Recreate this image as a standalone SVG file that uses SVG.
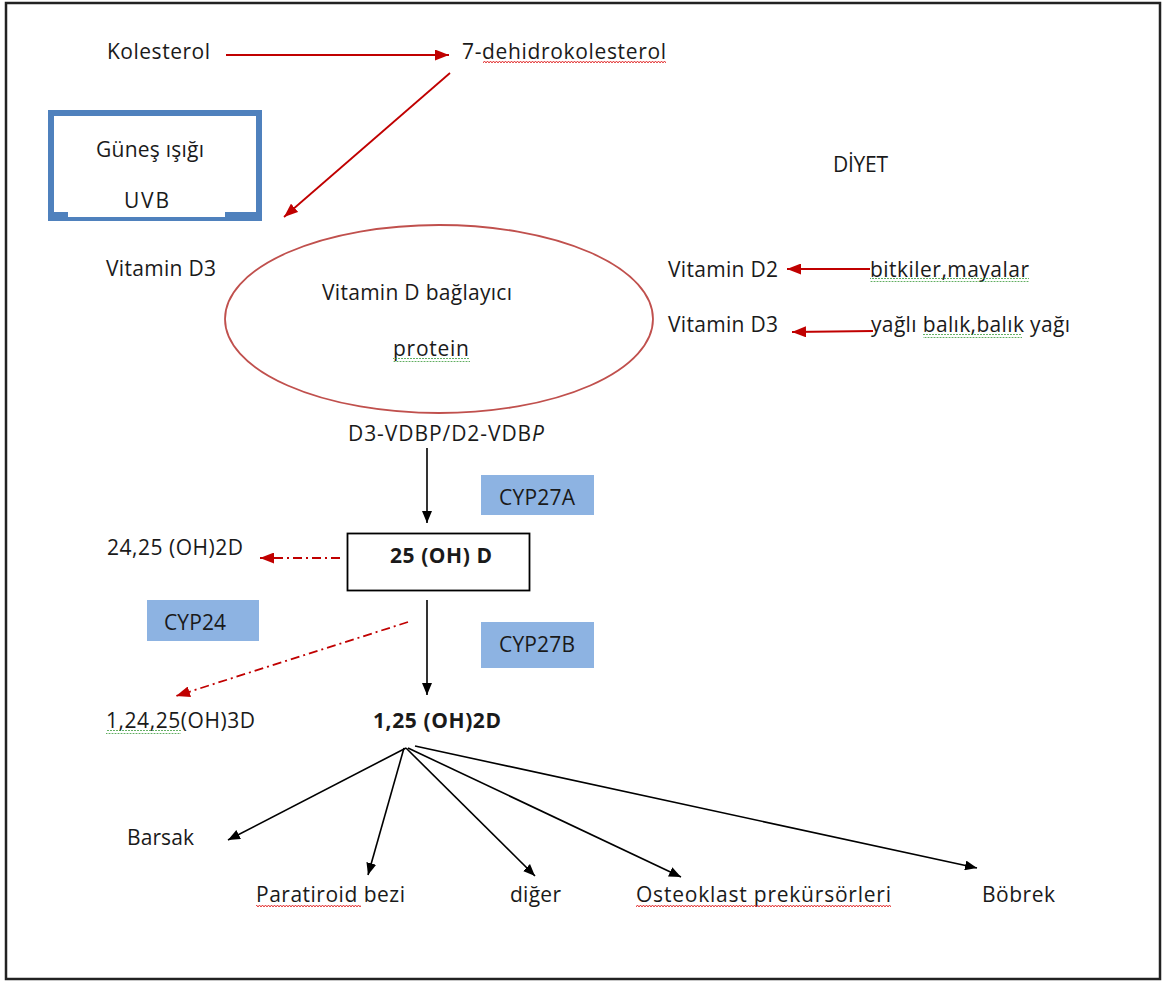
<svg xmlns="http://www.w3.org/2000/svg" width="1163" height="983" viewBox="0 0 1163 983">
<style>
.t{font-family:"Open Sans","Liberation Sans",sans-serif;font-size:21px;fill:#1a1a1a}
.b{font-weight:bold}
.red{stroke:#c00000;stroke-width:1.8;fill:none}
.blk{stroke:#000;stroke-width:1.6;fill:none}
.dd{stroke:#c00000;stroke-width:1.8;fill:none;stroke-dasharray:9 4 2 4}
.cyp{fill:#8db3e2}
</style>
<defs>
<marker id="ar" markerUnits="userSpaceOnUse" markerWidth="14" markerHeight="11" refX="14" refY="5.5" orient="auto"><path d="M0,0 L14,5.5 L0,11 z" fill="#c00000"/></marker>
<marker id="ab" markerUnits="userSpaceOnUse" markerWidth="12" markerHeight="10" refX="12" refY="5" orient="auto"><path d="M0,0 L12,5 L0,10 z" fill="#000"/></marker>
<pattern id="wr" patternUnits="userSpaceOnUse" width="3" height="4"><path d="M0,3 L1.5,1 L3,3" stroke="#e02020" stroke-width="0.9" fill="none"/></pattern>
<pattern id="wg" patternUnits="userSpaceOnUse" width="3" height="4"><path d="M0,3 L1.5,1 L3,3" stroke="#3a9a3a" stroke-width="0.9" fill="none"/></pattern>
</defs>
<rect x="6" y="3" width="1154" height="976" fill="#fff" stroke="#222" stroke-width="2.5"/>

<g id="connectors">
<line class="red" x1="226" y1="55" x2="449" y2="55" marker-end="url(#ar)"/>
<line class="red" x1="450" y1="73" x2="284" y2="217" marker-end="url(#ar)"/>
<line class="red" x1="870" y1="269" x2="787" y2="269" marker-end="url(#ar)"/>
<line class="red" x1="873" y1="331" x2="792" y2="332" stroke-width="2.6" marker-end="url(#ar)"/>
<line class="blk" x1="427" y1="448" x2="427" y2="523" marker-end="url(#ab)"/>
<line class="dd" x1="340" y1="558" x2="260" y2="558" marker-end="url(#ar)"/>
<line class="blk" x1="427" y1="600" x2="427" y2="695" marker-end="url(#ab)"/>
<line class="dd" x1="408" y1="622" x2="176" y2="696" marker-end="url(#ar)"/>
<line class="blk" x1="406" y1="748" x2="228" y2="840" marker-end="url(#ab)"/>
<line class="blk" x1="404" y1="748" x2="368" y2="875" marker-end="url(#ab)"/>
<line class="blk" x1="406" y1="748" x2="535" y2="876" marker-end="url(#ab)"/>
<line class="blk" x1="408" y1="748" x2="681" y2="877" marker-end="url(#ab)"/>
<line class="blk" x1="415" y1="746" x2="977" y2="868" stroke-width="2.2" marker-end="url(#ab)"/>
</g>

<g id="kolesterol"><text class="t" x="107" y="59" textLength="103">Kolesterol</text></g>
<g id="dehidrokolesterol"><text class="t" x="462" y="59" textLength="204">7-dehidrokolesterol</text><rect x="483" y="60" width="183" height="4" fill="url(#wr)"/></g>

<g id="gunes">
<rect x="51" y="113" width="208" height="105" fill="none" stroke="#4f81bd" stroke-width="6"/>
<rect x="54" y="212" width="14" height="3" fill="#4f81bd"/>
<rect x="225" y="212" width="31" height="3" fill="#4f81bd"/>
<rect x="68" y="215" width="157" height="2" fill="#fff"/>
<text class="t" x="96" y="157" textLength="108">Güneş ışığı</text>
<text class="t" x="124" y="208" textLength="45">UVB</text>
</g>

<g id="diyet"><text class="t" x="833" y="172" textLength="55">DİYET</text></g>
<g id="vitd3-left"><text class="t" x="106" y="276" textLength="110">Vitamin D3</text></g>

<g id="vdbp">
<ellipse cx="439" cy="319" rx="214" ry="94" fill="none" stroke="#c0504d" stroke-width="1.8"/>
<text class="t" x="322" y="300" textLength="190">Vitamin D bağlayıcı</text>
<text class="t" x="393" y="356" textLength="76">protein</text>
<rect x="393" y="358" width="77" height="4" fill="url(#wg)"/>
</g>

<g id="vitd2"><text class="t" x="668" y="277" textLength="110">Vitamin D2</text></g>
<g id="bitkiler"><text class="t" x="870" y="277" textLength="159">bitkiler,mayalar</text><rect x="870" y="278" width="159" height="4" fill="url(#wg)"/></g>
<g id="vitd3-right"><text class="t" x="668" y="332" textLength="110">Vitamin D3</text></g>
<g id="balik"><text class="t" x="871" y="332" textLength="199">yağlı balık,balık yağı</text><rect x="923" y="334" width="99" height="4" fill="url(#wg)"/></g>

<g id="d3vdbp"><text class="t" x="348" y="441" textLength="196">D3-VDBP/D2-VDB<tspan font-style="italic">P</tspan></text></g>

<g id="cyp27a"><rect class="cyp" x="481" y="475" width="113" height="40"/><text class="t" x="499" y="505" textLength="76">CYP27A</text></g>

<g id="oh25d"><rect x="347.5" y="533.5" width="182" height="57" fill="#fff" stroke="#000" stroke-width="1.8"/><text class="t b" x="390" y="563" textLength="102">25 (OH) D</text></g>

<g id="oh2425"><text class="t" x="107" y="555" textLength="136">24,25 (OH)2D</text></g>

<g id="cyp24"><rect class="cyp" x="147" y="600" width="112" height="41"/><text class="t" x="164" y="630" textLength="62">CYP24</text></g>

<g id="cyp27b"><rect class="cyp" x="481" y="622" width="113" height="46"/><text class="t" x="499" y="652" textLength="76">CYP27B</text></g>

<g id="oh3d"><text class="t" x="106" y="728" textLength="149">1,24,25(OH)3D</text><rect x="106" y="730" width="75" height="4" fill="url(#wg)"/></g>

<g id="oh125"><text class="t b" x="373" y="728" textLength="128">1,25 (OH)2D</text></g>

<g id="barsak"><text class="t" x="127" y="845" textLength="67">Barsak</text></g>
<g id="paratiroid"><text class="t" x="256" y="902" textLength="149">Paratiroid bezi</text><rect x="256" y="904" width="105" height="4" fill="url(#wr)"/></g>
<g id="diger"><text class="t" x="510" y="902" textLength="51">diğer</text></g>
<g id="osteoklast"><text class="t" x="636" y="902" textLength="255">Osteoklast prekürsörleri</text><rect x="636" y="904" width="255" height="4" fill="url(#wr)"/></g>
<g id="bobrek"><text class="t" x="982" y="902" textLength="73">Böbrek</text></g>
</svg>
